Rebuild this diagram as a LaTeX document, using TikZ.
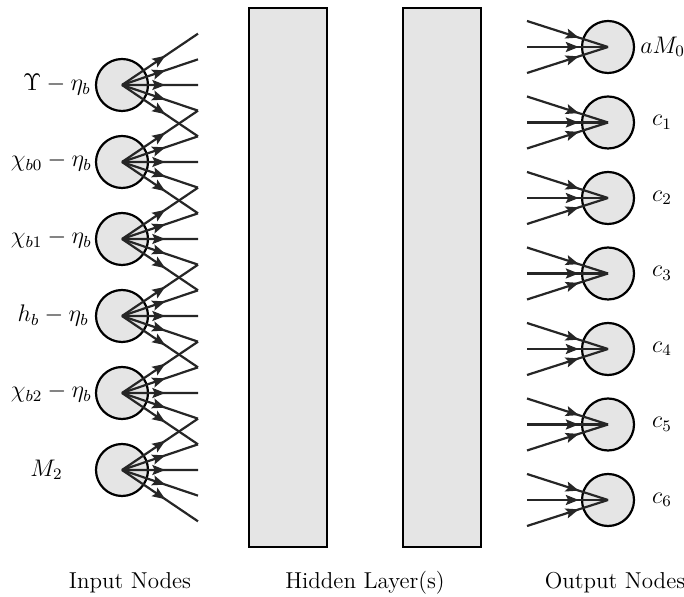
\documentclass[tikz,border=0pt]{standalone}
\usetikzlibrary{arrows.meta,decorations.markings}
\begin{document}
\begin{tikzpicture}[x=0.5pt,y=-0.5pt,
  neuron/.style={circle,draw,line width=1.1pt,fill=gray!20,minimum size=26pt,inner sep=0pt},
  hiddenbox/.style={draw,line width=0.9pt,fill=gray!20,minimum width=39pt,minimum height=269.5pt,inner sep=0pt},
  midarrow/.style={line width=1.1pt,draw=black!85,postaction={decorate},decoration={markings,mark=at position #1 with {\arrow{Stealth[length=6.5pt,width=5pt,inset=1.2pt]}}}},
  lab/.style={font=\fontsize{11.5pt}{14pt}\selectfont,inner sep=0pt}]
\useasboundingbox (0,0) rectangle (684,597);
% hidden layers
\node[hiddenbox] (h1) at (288,277.5) {};
\node[hiddenbox] (h2) at (442,277.5) {};
% input nodes
\foreach \i in {1,...,6} \node[neuron] (in\i) at (122,{85+77*(\i-1)}) {};
\foreach \j in {0,...,19} \coordinate (p\j) at (198,{33.67+25.667*\j});
\foreach \i in {1,...,6} {
  \foreach \k in {0,...,4} {
    \pgfmathtruncatemacro\j{3*(\i-1)+\k}
    \draw[midarrow=0.57] (in\i.center) -- (p\j);
  }
}
% output nodes
\foreach \i in {0,...,6} {
  \node[neuron] (out\i) at (608,{47+75.5*\i}) {};
  \foreach \k in {1,2,3} {
    \coordinate (s\i x\k) at (527,{47+75.5*\i+26*(\k-2)});
    \draw[midarrow=0.64] (s\i x\k) -- (out\i.center);
  }
}
% input labels
\node[lab,anchor=east] (l1) at (91,85) {$\Upsilon-\eta_b$};
\node[lab,anchor=east] (l2) at (92,162) {$\chi_{b0}-\eta_b$};
\node[lab,anchor=east] (l3) at (92,239) {$\chi_{b1}-\eta_b$};
\node[lab,anchor=east] (l4) at (89,316) {$h_b-\eta_b$};
\node[lab,anchor=east] (l5) at (92,393) {$\chi_{b2}-\eta_b$};
\node[lab,anchor=east] (l6) at (63,470) {$M_2$};
% output labels
\node[lab,anchor=west] (o0) at (640,47) {$aM_0$};
\node[lab] (o1) at (662,122.5) {$c_1$};
\node[lab] (o2) at (662,198) {$c_2$};
\node[lab] (o3) at (662,273.5) {$c_3$};
\node[lab] (o4) at (662,349) {$c_4$};
\node[lab] (o5) at (662,424.5) {$c_5$};
\node[lab] (o6) at (662,500) {$c_6$};
% bottom labels
\node[lab] (t1) at (130,583) {Input Nodes};
\node[lab] (t2) at (365,583) {Hidden Layer(s)};
\node[lab] (t3) at (615,583) {Output Nodes};
\end{tikzpicture}
\end{document}
